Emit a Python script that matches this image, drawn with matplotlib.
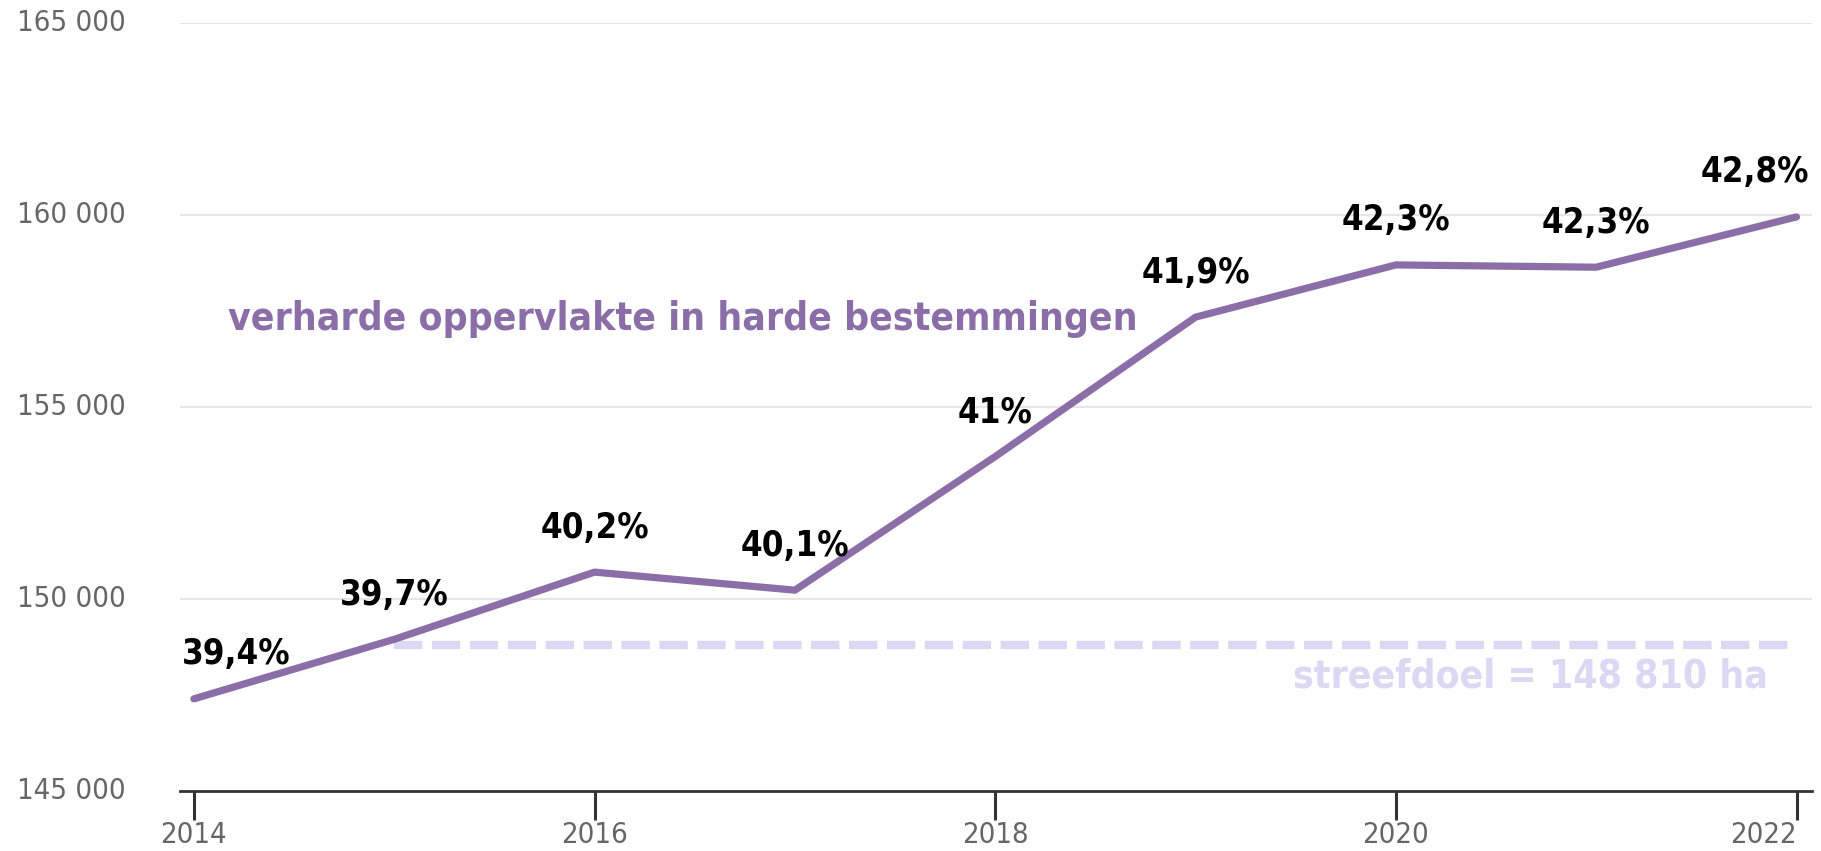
import matplotlib
matplotlib.use("Agg")
import matplotlib.pyplot as plt
from matplotlib.ticker import FuncFormatter

plt.rcParams["font.family"] = ["DejaVu Sans"]
plt.rcParams["font.stretch"] = "condensed"

years = [2014, 2015, 2016, 2017, 2018, 2019, 2020, 2021, 2022]
area_ha = [147400, 148950, 150700, 150230, 153710, 157340, 158700, 158640, 159950]
share_labels = ["39,4%", "39,7%", "40,2%", "40,1%", "41%", "41,9%", "42,3%", "42,3%", "42,8%"]
target_ha = 148810
target_from = 2015
y_ticks = [145000, 150000, 155000, 160000, 165000]
x_ticks = [2014, 2016, 2018, 2020, 2022]

LINE_COLOR = "#8b6ea8"
TARGET_COLOR = "#dcd7f3"
TICK_COLOR = "#666666"

fig = plt.figure(figsize=(18.21, 8.51), dpi=100)
ax = fig.add_axes([0.0988, 0.0705, 0.896, 0.9025])

# gridlines (the 145 000 line is the axis itself)
for y in y_ticks[1:]:
    ax.axhline(y, color="#e6e6e6", lw=1.6, zorder=0)

ax.plot([target_from, years[-1]], [target_ha, target_ha], color=TARGET_COLOR,
        lw=6, linestyle=(0, (3.4, 1.15)), dash_capstyle="butt", zorder=1)
ax.plot(years, area_ha, color=LINE_COLOR, lw=5.2, solid_capstyle="round",
        solid_joinstyle="round", zorder=2)

for i, (x, y, lab) in enumerate(zip(years, area_ha, share_labels)):
    ha, dx = "center", 0
    if i == 0:
        ha, dx = "left", -9
    elif i == len(years) - 1:
        ha, dx = "right", 9
    ax.annotate(lab, (x, y), xytext=(dx, 32), textcoords="offset points",
                ha=ha, va="center", fontsize=25, fontweight="bold", color="black")

ax.text(2014.17, 157300, "verharde oppervlakte in harde bestemmingen",
        color=LINE_COLOR, fontsize=28, fontweight="bold", ha="left", va="center")
ax.text(2021.855, 147970, "streefdoel = 148 810 ha", color=TARGET_COLOR,
        fontsize=28, fontweight="bold", ha="right", va="center")

ax.set_xlim(2013.93, 2022.075)
ax.set_ylim(145000, 165000)
ax.set_xticks(x_ticks)
ax.set_yticks(y_ticks)
ax.yaxis.set_major_formatter(FuncFormatter(lambda v, p: f"{int(v):,}".replace(",", " ")))
ax.tick_params(axis="y", length=0, pad=39, labelsize=21, labelcolor=TICK_COLOR)
ax.tick_params(axis="x", length=21, width=2.2, color="#333333", pad=0.5,
               labelsize=21, labelcolor=TICK_COLOR)
ax.get_xticklabels()[-1].set_horizontalalignment("right")
for lab in ax.get_yticklabels():
    lab.set_verticalalignment("center")

for side in ["top", "right", "left"]:
    ax.spines[side].set_visible(False)
ax.spines["bottom"].set_color("#333333")
ax.spines["bottom"].set_linewidth(2)

fig.savefig("out.png", dpi=100)
